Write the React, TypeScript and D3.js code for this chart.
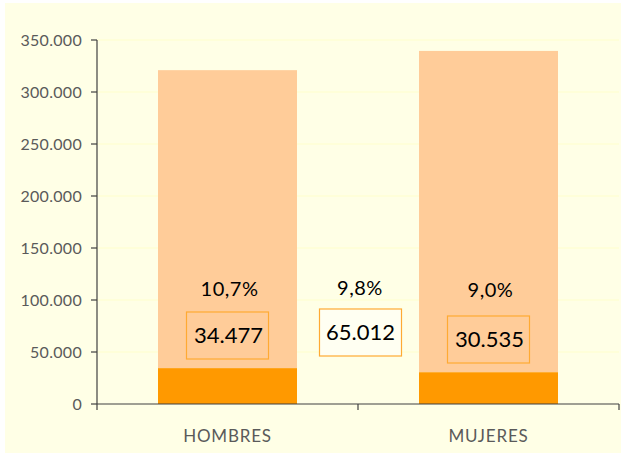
import React from "react";
import * as d3 from "d3";

const categories = ["HOMBRES", "MUJERES"];
const totals = [321000, 339500];
const highlighted = [34477, 30535];
const percentLabels = ["10,7%", "9,0%"];
const valueLabels = ["34.477", "30.535"];
const totalPercentLabel = "9,8%";
const totalValueLabel = "65.012";
const yTicks = [0, 50000, 100000, 150000, 200000, 250000, 300000, 350000];

const W = 621;
const H = 453;
const fmt = (v: number) => d3.format(",")(v).replace(/,/g, ".");

export default function App() {
  const x0 = 97, x1 = 619;
  const y = d3.scaleLinear().domain([0, 350000]).range([404, 40]);
  const x = d3.scaleBand().domain(categories).range([x0, x1]).paddingInner(0).paddingOuter(0);
  const barW = 139;
  const font = "Lato, 'DejaVu Sans', sans-serif";
  const mid = x0 + (x1 - x0) / 2;

  return (
    <svg width={W} height={H} style={{ position: "absolute", left: 0, top: 0 }} xmlns="http://www.w3.org/2000/svg">
      <rect x={0} y={0} width={W} height={H} fill="#ffffff" />
      <rect x={5} y={3} width={W - 5} height={H - 3} fill="#ffffe6" />
      {yTicks.filter(t => t > 0).map(t => (
        <line key={"g" + t} x1={x0} x2={x1} y1={y(t)} y2={y(t)} stroke="#ffffcc" strokeWidth={1} />
      ))}
      {categories.map((c, i) => {
        const cx = (x(c) as number) + x.bandwidth() / 2;
        return (
          <g key={c}>
            <rect x={cx - barW / 2} y={y(totals[i])} width={barW} height={y(highlighted[i]) - y(totals[i])} fill="#ffcc99" />
            <rect x={cx - barW / 2} y={y(highlighted[i])} width={barW} height={y(0) - y(highlighted[i])} fill="#ff9900" />
          </g>
        );
      })}
      <line x1={x0} x2={x0} y1={y(350000)} y2={y(0)} stroke="#404040" strokeWidth={1.2} />
      <line x1={x0} x2={x1} y1={y(0)} y2={y(0)} stroke="#404040" strokeWidth={1.2} />
      {yTicks.map(t => (
        <g key={"t" + t}>
          <line x1={x0 - 6} x2={x0} y1={y(t)} y2={y(t)} stroke="#404040" strokeWidth={1.2} />
          <text x={82} y={y(t)} dy="0.35em" textAnchor="end" fontFamily={font} fontSize={16} letterSpacing={0.3} fill="#5a5a5a">{fmt(t)}</text>
        </g>
      ))}
      {[x0, mid, x1].map((tx, i) => (
        <line key={"xt" + i} x1={tx} x2={tx} y1={y(0)} y2={y(0) + 6} stroke="#404040" strokeWidth={1.2} />
      ))}
      {categories.map(c => {
        const cx = (x(c) as number) + x.bandwidth() / 2;
        return (
          <text key={"cl" + c} x={cx} y={436} dy="0.35em" textAnchor="middle" fontFamily={font} fontSize={17} letterSpacing={0.8} fill="#5a5a5a">{c}</text>
        );
      })}
      {categories.map((c, i) => {
        const cx = (x(c) as number) + x.bandwidth() / 2;
        const py = i === 0 ? 289 : 290;
        const by = i === 0 ? 312 : 316;
        return (
          <g key={"lab" + c}>
            <text x={cx + 2} y={py} dy="0.35em" textAnchor="middle" fontFamily={font} fontSize={20} letterSpacing={0.5} fill="#000">{percentLabels[i]}</text>
            <rect x={cx - 41} y={by} width={82} height={47} fill="none" stroke="#ffaa33" strokeWidth={1.2} />
            <text x={cx + 1} y={by + 23.5} dy="0.35em" textAnchor="middle" fontFamily={font} fontSize={22} fill="#000">{valueLabels[i]}</text>
          </g>
        );
      })}
      <text x={mid + 2} y={288} dy="0.35em" textAnchor="middle" fontFamily={font} fontSize={20} letterSpacing={0.5} fill="#000">{totalPercentLabel}</text>
      <rect x={mid - 38.5} y={309} width={82} height={47} fill="#fffff2" stroke="#ffaa33" strokeWidth={1.2} />
      <text x={mid + 2.5} y={332.5} dy="0.35em" textAnchor="middle" fontFamily={font} fontSize={22} fill="#000">{totalValueLabel}</text>
    </svg>
  );
}
